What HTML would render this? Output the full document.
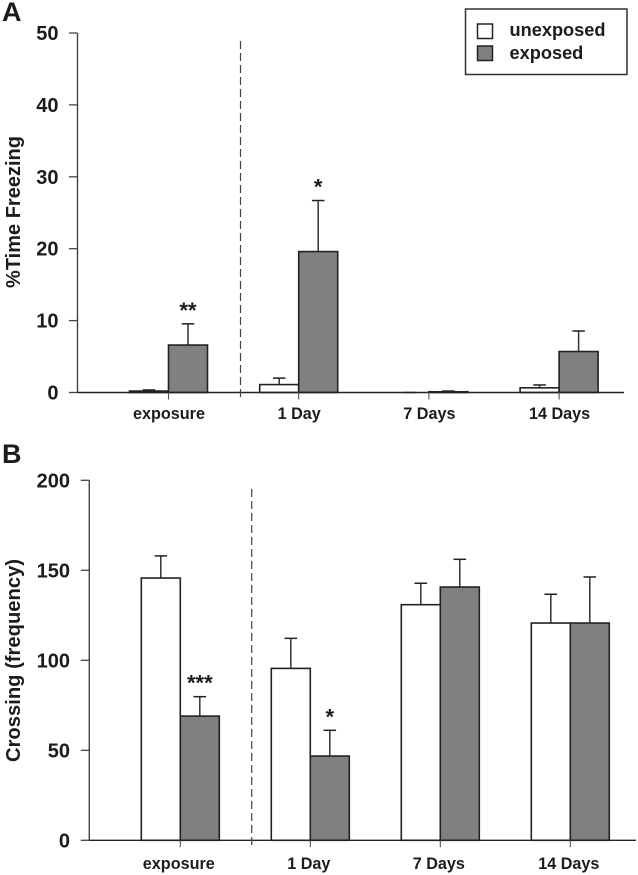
<!DOCTYPE html>
<html lang="en">
<head>
<meta charset="utf-8">
<title>Freezing and crossing by exposure group</title>
<style>
html,body{margin:0;padding:0;background:#fff;width:638px;height:875px;overflow:hidden}
svg{display:block}
text{font-family:"Liberation Sans",sans-serif;font-weight:bold;fill:#1c1c1c}
</style>
</head>
<body>
<svg id="figure" xmlns="http://www.w3.org/2000/svg" width="638" height="875" viewBox="0 0 638 875">
  <rect x="0" y="0" width="638" height="875" fill="#ffffff"/>
  <text x="2" y="21" font-size="27">A</text>
  <text x="2" y="463" font-size="27">B</text>
  <text transform="translate(20,212) rotate(-90)" text-anchor="middle" font-size="20">%Time Freezing</text>
  <text transform="translate(20,660.5) rotate(-90)" text-anchor="middle" font-size="20.2">Crossing (frequency)</text>
  <g>
    <rect x="465.5" y="9" width="161.5" height="65.5" fill="#ffffff" stroke="#333333" stroke-width="1.5"/>
    <rect x="477.5" y="24" width="15" height="14.5" fill="#ffffff" stroke="#222222" stroke-width="1.5"/>
    <text x="509.5" y="36" font-size="18.2">unexposed</text>
    <rect x="477.5" y="46" width="15" height="14.5" fill="#808080" stroke="#222222" stroke-width="1.5"/>
    <text x="509.5" y="59" font-size="18.2">exposed</text>
  </g>
  <g id="panel-a"></g>
  <g id="panel-b"></g>
</svg>
<script>
var categories = ['exposure', '1 Day', '7 Days', '14 Days'];

var freezingTicks = [0, 10, 20, 30, 40, 50];
var freezingUnexposed = [0.2, 1.1, 0, 0.65];
var freezingUnexposedError = [0.15, 0.9, 0, 0.4];
var freezingExposed = [6.6, 19.6, 0.1, 5.7];
var freezingExposedError = [2.95, 7.1, 0.1, 2.85];
var freezingUnexposedMarks = ['', '', '', ''];
var freezingExposedMarks = ['**', '*', '', ''];

var crossingTicks = [0, 50, 100, 150, 200];
var crossingUnexposed = [145.7, 95.5, 130.9, 120.7];
var crossingUnexposedError = [12.3, 16.7, 11.9, 16];
var crossingExposed = [69, 46.8, 140.7, 120.7];
var crossingExposedError = [10.8, 14.3, 15.4, 25.6];
var crossingUnexposedMarks = ['', '', '', ''];
var crossingExposedMarks = ['***', '*', '', ''];

var SVG_NS = 'http://www.w3.org/2000/svg';

function make(parent, tag, attrs, content) {
  var node = document.createElementNS(SVG_NS, tag);
  for (var key in attrs) {
    node.setAttribute(key, attrs[key]);
  }
  if (content !== undefined) {
    node.textContent = content;
  }
  parent.appendChild(node);
  return node;
}

function drawPanel(parent, layout, ticks, unexposed, unexposedError, exposed, exposedError, unexposedMarks, exposedMarks) {
  var maxTick = ticks[ticks.length - 1];
  function yScale(value) {
    return layout.yZero - (value / maxTick) * (layout.yZero - layout.yTop);
  }
  function xCenter(index) {
    return layout.xFirst + index * layout.xStep;
  }

  function drawBar(index, value, error, mark, left, fill, seriesName) {
    var slug = categories[index].toLowerCase().replace(/ /g, '-');
    var top = yScale(value);
    var errorTop = yScale(value + error);
    var middle = left + layout.barWidth / 2;

    var stem = make(parent, 'line', { x1: middle, x2: middle, y1: top, y2: errorTop, stroke: '#333333', 'stroke-width': 1.5 });
    
    

    var cap = make(parent, 'line', { x1: middle - 6.3, x2: middle + 6.3, y1: errorTop, y2: errorTop, stroke: '#222222', 'stroke-width': 1.5 });
    
    

    var bar = make(parent, 'rect', { x: left, y: top, width: layout.barWidth, height: layout.yZero - top, fill: fill, stroke: '#222222', 'stroke-width': 1.6 });
    
    

    if (mark) {
      var star = make(parent, 'text', { x: middle, y: errorTop - 6, 'text-anchor': 'middle', 'font-size': 22 }, mark);
      
      
    }
  }

  categories.forEach(function (category, index) {
    var center = xCenter(index);
    drawBar(index, unexposed[index], unexposedError[index], unexposedMarks[index], center - layout.barWidth, '#ffffff', 'unexposed');
    drawBar(index, exposed[index], exposedError[index], exposedMarks[index], center, '#808080', 'exposed');
  });

  var yAxis = make(parent, 'line', { x1: layout.xAxis, x2: layout.xAxis, y1: yScale(maxTick), y2: layout.yZero, stroke: '#444444', 'stroke-width': 1.4 });
  
  

  var xAxis = make(parent, 'line', { x1: layout.xAxis, x2: layout.xEnd, y1: layout.yZero, y2: layout.yZero, stroke: '#222222', 'stroke-width': 1.4 });
  
  

  ticks.forEach(function (tick) {
    var y = yScale(tick);
    var tickMark = make(parent, 'line', { x1: layout.xAxis - 8.5, x2: layout.xAxis, y1: y, y2: y, stroke: '#444444', 'stroke-width': 1.3 });
    
    

    var tickLabel = make(parent, 'text', { x: layout.yLabelX, y: y + 7, 'text-anchor': 'end', 'font-size': 20 }, String(tick));
    
    
  });

  categories.forEach(function (category, index) {
    var center = xCenter(index);
    var tickMark = make(parent, 'line', { x1: center, x2: center, y1: layout.yZero, y2: layout.yZero + 7, stroke: '#555555', 'stroke-width': 1.1 });
    
    

    var label = make(parent, 'text', { x: center + layout.labelShift, y: layout.labelBaseline, 'text-anchor': 'middle', 'font-size': 16.2 }, category);
    
    
  });

  var divider = make(parent, 'line', { x1: layout.dividerX, x2: layout.dividerX, y1: layout.dividerTop, y2: layout.dividerBottom, stroke: '#444444', 'stroke-width': 1.2, 'stroke-dasharray': '8 4' });
  
  
}

drawPanel(document.getElementById('panel-a'), {
  xAxis: 77.5, xEnd: 624, yTop: 33, yZero: 392.5, xFirst: 168.5, xStep: 130.2, barWidth: 39,
  yLabelX: 58.5, labelShift: 0.5, labelBaseline: 419, dividerX: 240.5, dividerTop: 41, dividerBottom: 398.5
}, freezingTicks, freezingUnexposed, freezingUnexposedError, freezingExposed, freezingExposedError, freezingUnexposedMarks, freezingExposedMarks);

drawPanel(document.getElementById('panel-b'), {
  xAxis: 89.3, xEnd: 636, yTop: 480.3, yZero: 840.3, xFirst: 180.3, xStep: 130, barWidth: 39,
  yLabelX: 70, labelShift: -1.5, labelBaseline: 869, dividerX: 251.7, dividerTop: 489, dividerBottom: 847
}, crossingTicks, crossingUnexposed, crossingUnexposedError, crossingExposed, crossingExposedError, crossingUnexposedMarks, crossingExposedMarks);
</script>
</body>
</html>
